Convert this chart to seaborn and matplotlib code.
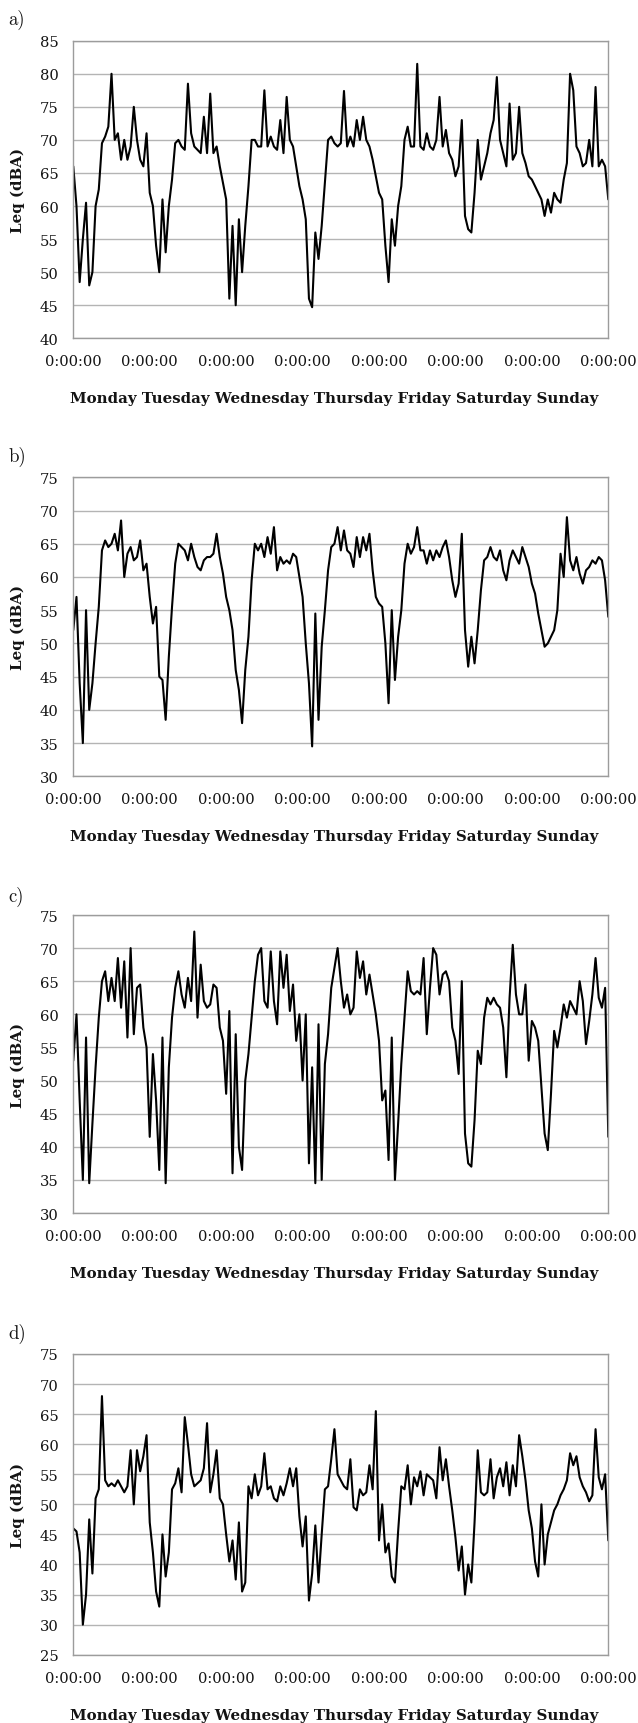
import matplotlib
matplotlib.use("Agg")
import matplotlib.pyplot as plt
import pandas as pd
import seaborn as sns

# hourly Leq readings over one week (hour 0 = Monday 0:00, hour 168 = next Monday 0:00)
HOURS = list(range(169))
DAYS = ["Monday", "Tuesday", "Wednesday", "Thursday", "Friday", "Saturday", "Sunday"]
TICK_LABEL = "0:00:00"

PANEL_A = [
    66, 60, 48.5, 55, 60.5, 48, 50, 60, 62.5, 69.5, 70.5, 72, 80, 70, 71, 67, 70, 67, 69, 75, 70, 67, 66, 71,
    62, 60, 54, 50, 61, 53, 60, 64, 69.5, 70, 69, 68.5, 78.5, 71, 69, 68.5, 68, 73.5, 68, 77, 68, 69, 66, 63.5,
    61, 46, 57, 45, 58, 50, 57, 63, 70, 70, 69, 69, 77.5, 69, 70.5, 69, 68.5, 73, 68, 76.5, 70, 69, 66, 63,
    61, 58, 46, 44.7, 56, 52, 57, 63.5, 70, 70.5, 69.5, 69, 69.5, 77.4, 69, 70.5, 69, 73, 70, 73.5, 70, 69, 67, 64.5,
    62, 61, 54, 48.5, 58, 54, 60, 63, 70, 72, 69, 69, 81.5, 69, 68.5, 71, 69, 68.5, 70, 76.5, 69, 71.5, 68, 67,
    64.5, 66, 73, 58.5, 56.5, 56, 62, 70, 64, 66, 68, 71, 73, 79.5, 70, 68, 66, 75.5, 67, 68, 75, 68, 66.5, 64.5,
    64, 63, 62, 61, 58.5, 61, 59, 62, 61, 60.5, 64, 66.5, 80, 77.5, 69, 68, 66, 66.5, 70, 66, 78, 66, 67, 66, 61,
]
PANEL_B = [
    52, 57, 44, 35, 55, 40, 44, 50, 55.5, 64, 65.5, 64.5, 65, 66.5, 64, 68.5, 60, 63.5, 64.5, 62.5, 63, 65.5, 61, 62,
    57, 53, 55.5, 45, 44.5, 38.5, 48, 55.5, 62, 65, 64.5, 64, 62.5, 65, 63, 61.5, 61, 62.5, 63, 63, 63.5, 66.5, 63, 60.5,
    57, 55, 52, 46, 43, 38, 46, 51, 59.5, 65, 64, 65, 63, 66, 63.5, 67.5, 61, 63, 62, 62.5, 62, 63.5, 63, 60,
    57, 50, 44, 34.5, 54.5, 38.5, 49.5, 55, 61, 64.5, 65, 67.5, 64, 67, 64, 63.5, 61.5, 66, 63, 66, 64, 66.5, 61, 57,
    56, 55.5, 50, 41, 55, 44.5, 51, 55, 62, 65, 63.5, 64.5, 67.5, 64, 64, 62, 64, 62.5, 64, 63, 64.5, 65.5, 63, 59.5,
    57, 59, 66.5, 52, 46.5, 51, 47, 52, 58, 62.5, 63, 64.5, 63, 62.5, 64, 61, 59.5, 62.5, 64, 63, 62, 64.5, 63, 61.5,
    59, 57.5, 54.5, 52, 49.5, 50, 51, 52, 55, 63.5, 60, 69, 62.5, 61, 63, 60.5, 59, 61, 61.5, 62.5, 62, 63, 62.5, 59.5, 54,
]
PANEL_C = [
    53, 60, 47, 35, 56.5, 34.5, 43.5, 52, 59.5, 65, 66.5, 62, 65.5, 62, 68.5, 61, 68, 56.5, 70, 57, 64, 64.5, 58, 55,
    41.5, 54, 47, 36.5, 56.5, 34.5, 52, 59.5, 64, 66.5, 63, 61, 65.5, 62, 72.5, 59.5, 67.5, 62, 61, 61.5, 64.5, 64, 58, 56,
    48, 60.5, 36, 57, 40, 36.5, 50, 54, 59.5, 65, 69, 70, 62, 61, 69.5, 62, 58.5, 69.5, 64, 69, 60.5, 64.5, 56, 60,
    50, 60, 37.5, 52, 34.5, 58.5, 35, 52.5, 57, 64, 67, 70, 65, 61, 63, 60, 61, 69.5, 65.5, 68, 63, 66, 63, 60,
    56, 47, 48.5, 38, 56.5, 35, 43.5, 52.5, 59.5, 66.5, 63.5, 63, 63.5, 63, 68.5, 57, 64, 70, 69, 63, 66, 66.5, 65, 58,
    56, 51, 65, 42, 37.5, 37, 44, 54.5, 52.5, 59.5, 62.5, 61.5, 62.5, 61.5, 61, 58, 50.5, 62.5, 70.5, 63, 60, 60, 64.5, 53,
    59, 58, 56, 49, 42, 39.5, 48, 57.5, 55, 58, 61.5, 59.5, 62, 61, 60, 65, 62, 55.5, 59, 63, 68.5, 62.5, 61, 64, 41.5,
]
PANEL_D = [
    46, 45.5, 42, 30, 35, 47.5, 38.5, 51, 52.5, 68, 54, 53, 53.5, 53, 54, 53, 52, 53, 59, 50, 59, 55.5, 58, 61.5,
    47, 42, 35.5, 33, 45, 38, 42, 52.5, 53.5, 56, 52, 64.5, 60, 55, 53, 53.5, 54, 56, 63.5, 52, 55, 59, 51, 50,
    45, 40.5, 44, 37.5, 47, 35.5, 37, 53, 51, 55, 51.5, 53, 58.5, 52.5, 53, 51, 50.5, 53, 51.5, 53.5, 56, 53, 56, 48,
    43, 48, 34, 38.5, 46.5, 37, 45, 52.5, 53, 57.5, 62.5, 55, 54, 53, 52.5, 57.5, 49.5, 49, 52.5, 51.5, 52, 56.5, 52.5, 65.5,
    44, 50, 42, 43.5, 38, 37, 45.5, 53, 52.5, 56.5, 50, 54.5, 53, 55.5, 51.5, 55, 54.5, 54, 51, 59.5, 54, 57.5, 53, 49,
    44.5, 39, 43, 35, 40, 37, 47, 59, 52, 51.5, 52, 57.5, 51, 54.5, 56, 53, 57, 51.5, 56.5, 53, 61.5, 58, 54, 49,
    46, 40.5, 38, 50, 40, 45, 47, 49, 50, 51.5, 52.5, 54, 58.5, 56.5, 58, 54.5, 53, 52, 50.5, 51.5, 62.5, 54.5, 52.5, 55, 44,
]

PANEL_LETTERS = ["a)", "b)", "c)", "d)"]
PANEL_VALUES = [PANEL_A, PANEL_B, PANEL_C, PANEL_D]
Y_RANGES = [(40, 85), (30, 75), (30, 75), (25, 75)]

# layout in pixels of the 638 x 1724 canvas
W, H = 638, 1724
X0, X1 = 73.3, 608.3
BOXES = [(41.7, 339.3), (478.3, 777.3), (916.0, 1214.0), (1355.0, 1655.7)]
LETTER_BASE = [25, 462, 902, 1339]

GRID = "#b4b4b4"
SPINE = "#9c9c9c"
INK = "#141414"

sns.set_style("white")
plt.rcParams.update({
    "font.family": ["DejaVu Serif"],
    "font.size": 10.6,
    "text.color": INK,
    "axes.labelcolor": INK,
    "xtick.color": SPINE,
    "ytick.color": SPINE,
    "xtick.labelcolor": INK,
    "ytick.labelcolor": INK,
})

fig = plt.figure(figsize=(W / 100, H / 100), dpi=100)

for letter, vals, (ylo, yhi), (top, bot), base in zip(
        PANEL_LETTERS, PANEL_VALUES, Y_RANGES, BOXES, LETTER_BASE):
    ax = fig.add_axes([X0 / W, 1 - bot / H, (X1 - X0) / W, (bot - top) / H])
    df = pd.DataFrame({"hour": HOURS, "leq": vals})
    sns.lineplot(data=df, x="hour", y="leq", ax=ax, estimator=None,
                 color="black", linewidth=1.5)

    ax.set_xlim(0, 168)
    ax.set_ylim(ylo, yhi)
    ax.set_xticks(range(0, 169, 24))
    ax.set_xticklabels([TICK_LABEL] * 8)
    ax.set_yticks(range(ylo, yhi + 1, 5))
    ax.yaxis.grid(True, color=GRID, linewidth=1.0)
    ax.xaxis.grid(False)
    ax.set_axisbelow(True)

    for side in ["left", "right", "top", "bottom"]:
        ax.spines[side].set_visible(True)
        ax.spines[side].set_color(SPINE)
        ax.spines[side].set_linewidth(1.0)

    ax.tick_params(axis="x", direction="out", length=3.6, width=0.9, pad=8, labelsize=10.6)
    ax.tick_params(axis="y", direction="out", length=3.6, width=0.9, pad=7, labelsize=10.6)

    ax.set_xlabel(" ".join(DAYS), fontweight="bold", fontsize=10.8)
    ax.xaxis.set_label_coords(0.487, -53 / (bot - top))
    ax.set_ylabel("Leq (dBA)", fontweight="bold", fontsize=10.8)
    ax.yaxis.set_label_coords(-(X0 - 25) / (X1 - X0), 0.5)

    fig.text(8 / W, 1 - base / H, letter, family="cmr10", fontsize=13.5,
             va="baseline", ha="left", color=INK)

fig.savefig("out.png", dpi=100)
